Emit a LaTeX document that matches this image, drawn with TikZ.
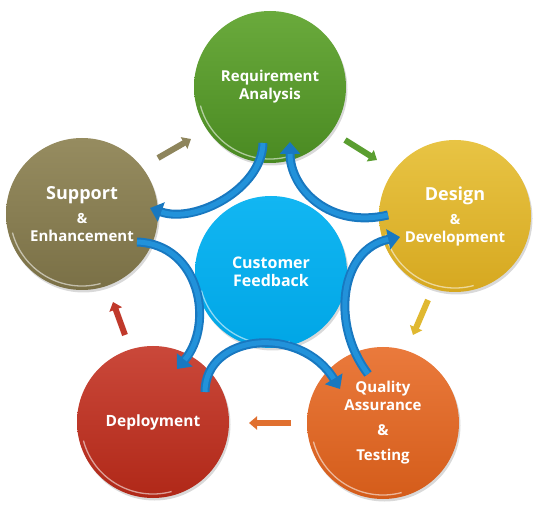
\documentclass[tikz,border=0pt]{standalone}
\usepackage{fontspec}
\setmainfont{Open Sans}
\usetikzlibrary{arrows.meta,shadows}
\definecolor{gTop}{HTML}{6AAA3C}\definecolor{gBot}{HTML}{4A8A22}
\definecolor{yTop}{HTML}{E8C444}\definecolor{yBot}{HTML}{D6A820}
\definecolor{oTop}{HTML}{968C60}\definecolor{oBot}{HTML}{7A7046}
\definecolor{rTop}{HTML}{CA483A}\definecolor{rBot}{HTML}{B02818}
\definecolor{orTop}{HTML}{EA7A3C}\definecolor{orBot}{HTML}{D45C1A}
\definecolor{bTop}{HTML}{12B6F2}\definecolor{bBot}{HTML}{00A6E6}
\definecolor{ribdark}{HTML}{1878C0}
\definecolor{riblight}{HTML}{2292DA}
\definecolor{aOlive}{HTML}{8E855C}
\definecolor{aGreen}{HTML}{5A9E30}
\definecolor{aYellow}{HTML}{E0B830}
\definecolor{aOrange}{HTML}{E07030}
\definecolor{aRed}{HTML}{C0392B}
\begin{document}
\begin{tikzpicture}[x=1pt,y=1pt,
  circ/.style={circle, minimum size=152pt, inner sep=0pt, text=white, align=center,
    font=\bfseries\fontsize{15}{18}\selectfont,
    drop shadow={shadow xshift=1.5pt,shadow yshift=-2.5pt,opacity=0.3}},
  rib/.style={line width=9pt, color=ribdark, -{Triangle[width=20pt,length=12pt]}},
  ribhi/.style={line width=5pt, color=riblight, shorten >=12pt},
  blk/.style={line width=6pt, -{Triangle[width=13pt,length=8pt]}},
  rim/.style={white, opacity=0.55, line width=1.3pt}
]
\useasboundingbox (0,0) rectangle (538,509);

% circles
\node[circ, top color=gTop, bottom color=gBot] (req) at (270,422)
  {Requirement\\Analysis};
\node[circ, top color=yTop, bottom color=yBot] (des) at (455,293)
  {{\fontsize{18}{18}\selectfont Design}\\[6pt]{\fontsize{14}{18}\selectfont\&}\\Development};
\node[circ, top color=orTop, bottom color=orBot] (qa) at (383,86)
  {Quality\\Assurance\\[7pt]\&\\[7pt]Testing};
\node[circ, top color=rTop, bottom color=rBot, font=\bfseries\fontsize{15.5}{18}\selectfont] (dep) at (153,87)
  {Deployment};
\node[circ, top color=oTop, bottom color=oBot] (sup) at (82,295)
  {{\fontsize{18}{18}\selectfont Support}\\[6pt]{\fontsize{14}{18}\selectfont\&}\\Enhancement};
\node[circ, top color=bTop, bottom color=bBot, font=\bfseries\fontsize{16}{18}\selectfont] (cf) at (271,237)
  {Customer\\Feedback};

% glossy rims
\foreach \c in {req,des,qa,dep,sup,cf}{
  \draw[rim] ([shift={(195:72)}]\c.center) arc[start angle=195,end angle=285,radius=72];
}

% small cycle arrows
\coordinate (a1s) at (158,351); \coordinate (a1e) at (191,370);
\coordinate (a2s) at (345,369); \coordinate (a2e) at (377,349);
\coordinate (a3s) at (428,209); \coordinate (a3e) at (413,174);
\coordinate (a4s) at (291,86);  \coordinate (a4e) at (249,86);
\coordinate (a5s) at (125,174); \coordinate (a5e) at (113,207);
\draw[blk, aOlive] (a1s) -- (a1e);
\draw[blk, aGreen] (a2s) -- (a2e);
\draw[blk, aYellow] (a3s) -- (a3e);
\draw[blk, aOrange] (a4s) -- (a4e);
\draw[blk, aRed] (a5s) -- (a5e);

% blue feedback ribbons
\coordinate (b1s) at (263,366); \coordinate (b1e) at (150,301);
\coordinate (b2s) at (388,294); \coordinate (b2e) at (290,367);
\coordinate (b3s) at (137,267); \coordinate (b3e) at (177,140);
\coordinate (b4s) at (205,117); \coordinate (b4e) at (340,120);
\coordinate (b5s) at (368,135); \coordinate (b5e) at (400,272);
\foreach \s/\e/\ca/\cb in {b1s/b1e/{(262,320)}/{(195,285)},
                          b2s/b2e/{(330,280)}/{(290,320)},
                          b3s/b3e/{(200,265)}/{(215,185)},
                          b4s/b4e/{(205,175)}/{(300,185)},
                          b5s/b5e/{(330,185)}/{(340,260)}}{
  \draw[rib] (\s) .. controls \ca and \cb .. (\e);
  \draw[ribhi] (\s) .. controls \ca and \cb .. (\e);
}
\end{tikzpicture}
\end{document}
